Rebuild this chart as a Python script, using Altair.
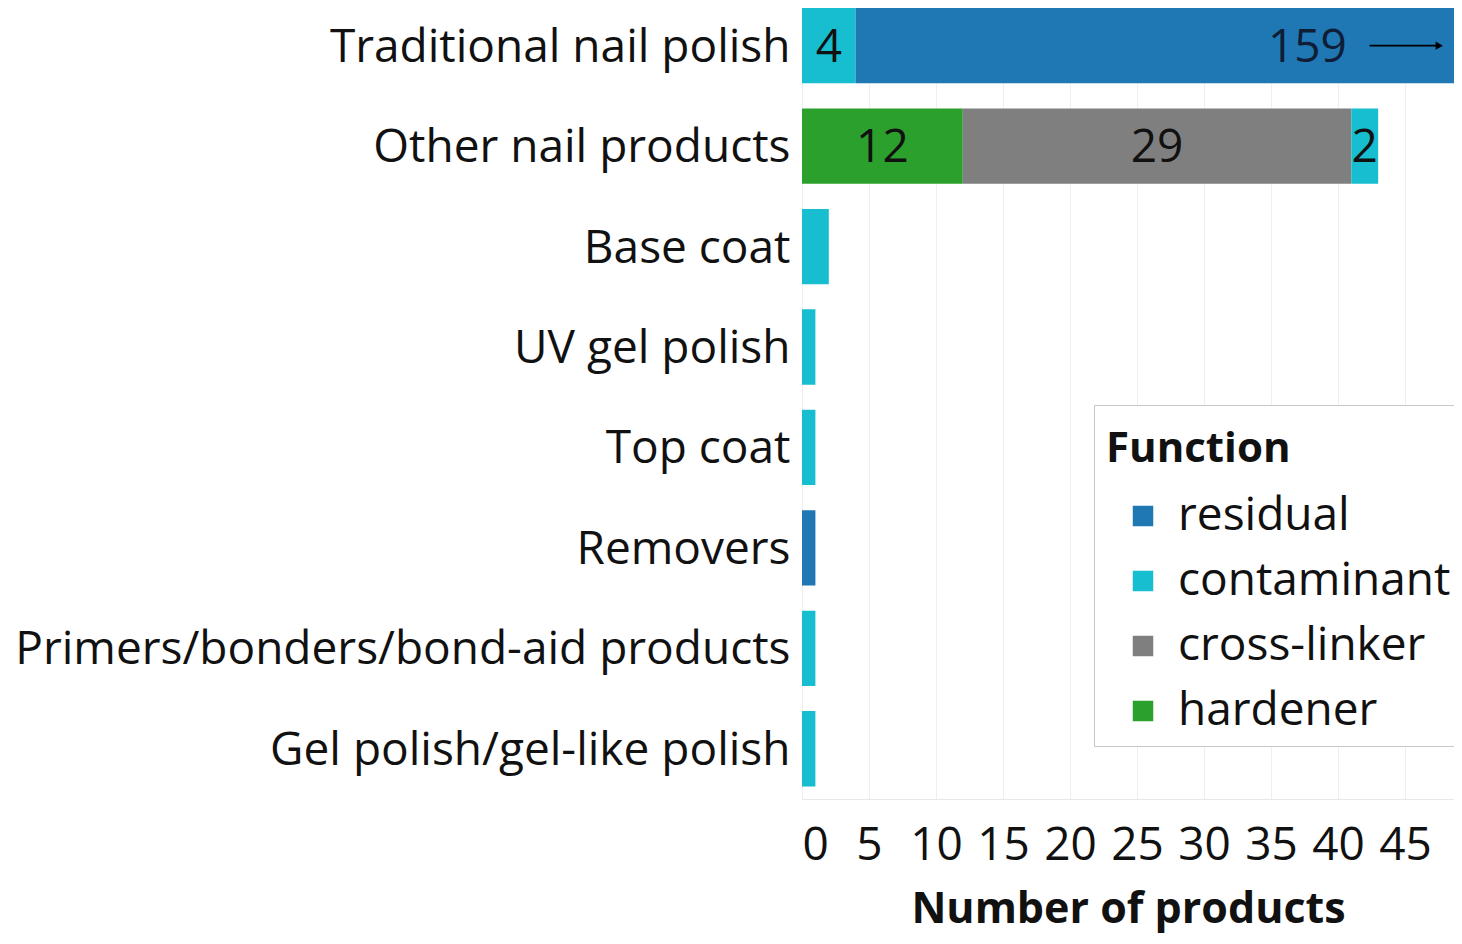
import altair as alt
import pandas as pd

# ---- data ----
categories = [
    "Traditional nail polish",
    "Other nail products",
    "Base coat",
    "UV gel polish",
    "Top coat",
    "Removers",
    "Primers/bonders/bond-aid products",
    "Gel polish/gel-like polish",
]
functions = ["residual", "contaminant", "cross-linker", "hardener"]
function_colors = ["#1f77b4", "#17becf", "#7f7f7f", "#2ca02c"]
stack_rank = {"hardener": 0, "cross-linker": 1, "contaminant": 2, "residual": 3}

rec_category = [
    "Traditional nail polish", "Traditional nail polish",
    "Other nail products", "Other nail products", "Other nail products",
    "Base coat", "UV gel polish", "Top coat", "Removers",
    "Primers/bonders/bond-aid products", "Gel polish/gel-like polish",
]
rec_function = [
    "contaminant", "residual",
    "hardener", "cross-linker", "contaminant",
    "contaminant", "contaminant", "contaminant", "residual",
    "contaminant", "contaminant",
]
rec_count = [4, 159, 12, 29, 2, 2, 1, 1, 1, 1, 1]
rec_labelled = [1, 1, 1, 1, 1, 0, 0, 0, 0, 0, 0]

x_ticks = [0, 5, 10, 15, 20, 25, 30, 35, 40, 45]
X_MAX = 48.66  # visible end of the axis (bars beyond are cut off)

FONT = "Open Sans"
FS = 46

df = pd.DataFrame({
    "category": rec_category,
    "function": rec_function,
    "count": rec_count,
    "labelled": rec_labelled,
})
df["rank"] = df["function"].map(stack_rank)

y_enc = alt.Y(
    "category:N",
    sort=categories,
    scale=alt.Scale(paddingInner=0.25, paddingOuter=0.0625, align=0),
    axis=alt.Axis(title=None, ticks=False, domain=False, labelPadding=12,
                  labelFontSize=FS, labelFont=FONT, labelColor="#111111",
                  labelLimit=1000, labelOffset=2),
)
x_scale = alt.Scale(domain=[0, X_MAX], nice=False, zero=True)

base = alt.Chart(df)

bars = base.mark_bar(clip=True).encode(
    y=y_enc,
    x=alt.X("sum(count):Q", stack="zero", scale=x_scale,
            axis=alt.Axis(values=x_ticks, title="Number of products",
                          labelFontSize=FS, labelFont=FONT, labelColor="#111111",
                          titleFontSize=43, titleFont=FONT, titleFontWeight="bold",
                          titleColor="#111111", titlePadding=20,
                          labelPadding=24, ticks=False, grid=True,
                          gridColor="#efefef", domainColor="#e8e8e8")),
    color=alt.Color("function:N",
                    scale=alt.Scale(domain=functions, range=function_colors),
                    legend=alt.Legend(title="Function")),
    order=alt.Order("rank:Q", sort="ascending"),
)

stacked = base.transform_stack(
    stack="count", groupby=["category"], as_=["x0", "x1"],
    sort=[alt.SortField("rank", order="ascending")],
).transform_calculate(mid="(datum.x0 + datum.x1) / 2")

labels = stacked.transform_filter(
    f"datum.labelled == 1 && datum.mid < {X_MAX}"
).mark_text(font=FONT, fontSize=FS, color="#111111", baseline="middle",
            align="center", dy=2).encode(
    y=alt.Y("category:N", sort=categories),
    x=alt.X("mid:Q", scale=x_scale),
    text="count:Q",
)

over = stacked.transform_filter(f"datum.labelled == 1 && datum.mid >= {X_MAX}")
over = over.transform_calculate(
    lx=f"{X_MAX} - 8.0",
    a0=f"{X_MAX} - 6.3",
    a1=f"{X_MAX} - 1.1",
)
over_text = over.mark_text(font=FONT, fontSize=FS, color="#0f1e36",
                           baseline="middle", align="right", dy=2).encode(
    y=alt.Y("category:N", sort=categories),
    x=alt.X("lx:Q", scale=x_scale),
    text="count:Q",
)
over_rule = over.mark_rule(color="black", strokeWidth=1.6).encode(
    y=alt.Y("category:N", sort=categories),
    x=alt.X("a0:Q", scale=x_scale),
    x2="a1:Q",
)
over_head = over.mark_point(shape="triangle-right", filled=True, color="black",
                            size=70, opacity=1).encode(
    y=alt.Y("category:N", sort=categories),
    x=alt.X("a1:Q", scale=x_scale),
)

chart = alt.layer(bars, labels, over_text, over_rule, over_head).properties(
    width=652, height=791,
    autosize=alt.AutoSizeParams(type="none"),
    padding={"left": 794, "top": 0, "right": 0, "bottom": 140},
).configure_view(stroke=None).configure_legend(
    orient="none", legendX=292, legendY=397,
    titleFontSize=42, titleFont=FONT, titleFontWeight="bold", titleColor="#111111",
    titleLimit=1000, titleBaseline="line-top", titleLineHeight=66,
    labelFontSize=FS, labelFont=FONT, labelColor="#111111", labelLimit=1000,
    symbolType="square", symbolSize=420, symbolStrokeWidth=0,
    symbolOffset=14, labelOffset=12,
    rowPadding=19, titlePadding=34, padding=12,
    strokeColor="#c8c8c8", fillColor="white", cornerRadius=0,
)

chart.save("out.html", embed_options={"renderer": "svg", "actions": False})
